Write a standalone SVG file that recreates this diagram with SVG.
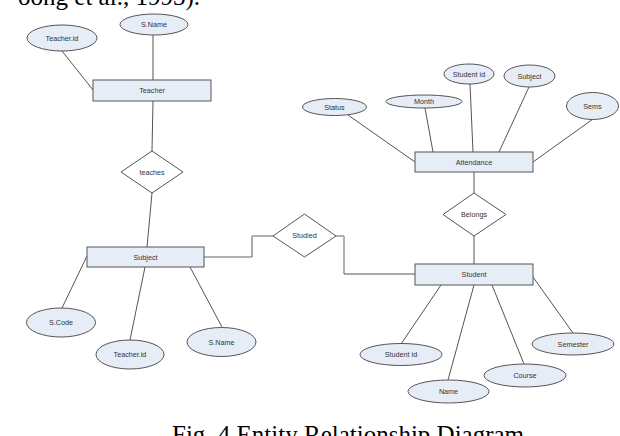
<svg xmlns="http://www.w3.org/2000/svg" width="620" height="436" viewBox="0 0 620 436">
<style>
.ent{fill:#e7edf7;stroke:#555;stroke-width:1}
.att{fill:#e7edf7;stroke:#555;stroke-width:1}
.rel{fill:#fff;stroke:#555;stroke-width:1}
.lbl{font-family:"Liberation Sans",Arial,sans-serif;font-size:7.2px;fill:#333;text-anchor:middle;dominant-baseline:central}
.cap{font-family:"Liberation Serif","Times New Roman",serif;font-size:25px;fill:#000}
.ln{stroke:#555;stroke-width:1;fill:none}
.lg{stroke:#b0b0b0;stroke-width:2;fill:none}
</style>
<rect width="620" height="436" fill="#fff"/>
<text class="cap" x="200" y="5" text-anchor="end" font-size="27">oong et al., 1993).</text>
<g id="connectors">
<line class="ln" x1="62" y1="51" x2="93" y2="90"/>
<line class="ln" x1="153" y1="35" x2="153" y2="80"/>
<line class="ln" x1="153" y1="101" x2="152" y2="151"/>
<line class="ln" x1="152" y1="193" x2="147" y2="247"/>
<line class="ln" x1="62" y1="308" x2="87" y2="256"/>
<line class="ln" x1="130" y1="340" x2="145" y2="267"/>
<line class="ln" x1="222" y1="327" x2="190" y2="267"/>
<line class="lg" x1="204" y1="257" x2="252" y2="257"/>
<line class="ln" x1="252" y1="257" x2="252" y2="236"/>
<line class="lg" x1="252" y1="236" x2="273" y2="236"/>
<line class="lg" x1="336" y1="236" x2="344" y2="236"/>
<line class="lg" x1="344" y1="236" x2="344" y2="274"/>
<line class="ln" x1="344" y1="274" x2="415" y2="274"/>
<line class="ln" x1="348" y1="115" x2="415" y2="162"/>
<line class="ln" x1="425" y1="108" x2="433" y2="152"/>
<line class="ln" x1="470" y1="84" x2="473" y2="152"/>
<line class="ln" x1="529" y1="87" x2="499" y2="152"/>
<line class="ln" x1="593" y1="119" x2="533" y2="162"/>
<line class="ln" x1="474" y1="172" x2="474" y2="193"/>
<line class="ln" x1="474" y1="236" x2="474" y2="264"/>
<line class="ln" x1="401" y1="344" x2="441" y2="285"/>
<line class="ln" x1="448" y1="380" x2="474" y2="285"/>
<line class="ln" x1="524" y1="364" x2="492" y2="285"/>
<line class="ln" x1="573" y1="333" x2="533" y2="277"/>
</g>
<g id="teacher"><rect class="ent" x="93" y="80" width="118" height="21"/><text class="lbl" x="152" y="90.5">Teacher</text></g>
<g id="teacher-id"><ellipse class="att" cx="62" cy="38" rx="35" ry="13"/><text class="lbl" x="62" y="38">Teacher.id</text></g>
<g id="teacher-sname"><ellipse class="att" cx="154" cy="24.5" rx="34" ry="10.5"/><text class="lbl" x="154" y="24.5">S.Name</text></g>
<g id="teaches"><polygon class="rel" points="152,151 183,172 152,193 121,172"/><text class="lbl" x="152" y="172">teaches</text></g>
<g id="subject"><rect class="ent" x="87" y="247" width="117" height="20"/><text class="lbl" x="145.5" y="257">Subject</text></g>
<g id="scode"><ellipse class="att" cx="61" cy="322.5" rx="34.5" ry="14.5"/><text class="lbl" x="61" y="322.5">S.Code</text></g>
<g id="subject-teacher-id"><ellipse class="att" cx="130" cy="354.5" rx="34" ry="14.5"/><text class="lbl" x="130" y="354.5">Teacher.id</text></g>
<g id="subject-sname"><ellipse class="att" cx="221.5" cy="342" rx="34.5" ry="14.5"/><text class="lbl" x="221.5" y="342">S.Name</text></g>
<g id="studied"><polygon class="rel" points="304.5,214 336,236 304.5,257 273,236"/><text class="lbl" x="304.5" y="235.5">Studied</text></g>
<g id="attendance"><rect class="ent" x="415" y="152" width="118" height="20"/><text class="lbl" x="474" y="162">Attendance</text></g>
<g id="status"><ellipse class="att" cx="334.5" cy="107" rx="32" ry="8.5"/><text class="lbl" x="334.5" y="107">Status</text></g>
<g id="month"><ellipse class="att" cx="424" cy="101.5" rx="38" ry="6.5"/><text class="lbl" x="424" y="101">Month</text></g>
<g id="att-student-id"><ellipse class="att" cx="469" cy="74" rx="25" ry="10"/><text class="lbl" x="469" y="74">Student id</text></g>
<g id="att-subject"><ellipse class="att" cx="529.5" cy="76" rx="25.5" ry="11"/><text class="lbl" x="529.5" y="76">Subject</text></g>
<g id="sems"><ellipse class="att" cx="592.5" cy="106" rx="26" ry="13.5"/><text class="lbl" x="592.5" y="106">Sems</text></g>
<g id="belongs"><polygon class="rel" points="474,193 506,214.5 474,236 443,214.5"/><text class="lbl" x="474" y="214.5">Belongs</text></g>
<g id="student"><rect class="ent" x="415" y="264" width="118" height="21"/><text class="lbl" x="474" y="274.5">Student</text></g>
<g id="student-id"><ellipse class="att" cx="401" cy="354.5" rx="41" ry="11"/><text class="lbl" x="401" y="354.5">Student id</text></g>
<g id="name"><ellipse class="att" cx="448.5" cy="391.5" rx="40.5" ry="11.5"/><text class="lbl" x="448.5" y="391.5">Name</text></g>
<g id="course"><ellipse class="att" cx="525" cy="375.5" rx="41" ry="11.5"/><text class="lbl" x="525" y="375.5">Course</text></g>
<g id="semester"><ellipse class="att" cx="573" cy="344" rx="41" ry="11"/><text class="lbl" x="573" y="344">Semester</text></g>
<text class="cap" x="172" y="443">Fig. 4 Entity Relationship Diagram</text>
</svg>
